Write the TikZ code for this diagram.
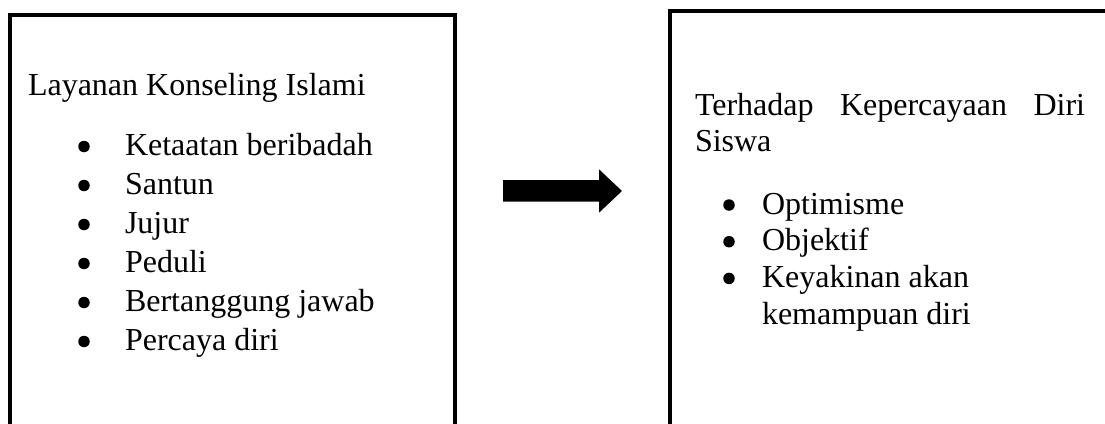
\documentclass[tikz,border=0pt]{standalone}
\usepackage{fontspec}
\setmainfont{Liberation Serif}
\begin{document}
\begin{tikzpicture}[x=1pt,y=-1pt,
  frame/.style={draw,line width=4pt,inner sep=0pt,outer sep=0pt,anchor=north west},
  txt/.style={inner sep=0pt,outer sep=0pt,anchor=base west,font=\fontsize{32}{36}\selectfont},
  dot/.style={circle,fill,inner sep=0pt,outer sep=0pt,minimum size=11.5pt}]
\useasboundingbox (0,0) rectangle (1105,423);
\clip (0,0) rectangle (1105,423);

% the two frames, open at the lower (and right) page edge
\node[frame,minimum width=445.5pt,minimum height=460pt] (leftbox) at (9.5,14.5) {};
\node[frame,minimum width=460pt,minimum height=460pt] (rightbox) at (669.5,10.5) {};

% left column
\node[txt] (ltitle) at (28,95) {Layanan Konseling Islami};
\foreach \i/\t in {0/Ketaatan beribadah,1/Santun,2/Jujur,3/Peduli,4/Bertanggung jawab,5/Percaya diri}{
  \node[txt] (litem\i) at (125,155.5+39*\i) {\t};
  \node[dot] (ldot\i) at (84,146.5+39*\i) {};
}

% block arrow between the frames
\fill (503,180) -- (599,180) -- (599,169.3) -- (622,191) -- (599,212.7)
      -- (599,201.7) -- (503,201.7) -- cycle;

% right column
\node[txt] (rtitle) at (695,115) {\makebox[390pt][l]{Terhadap\hfill Kepercayaan\hfill Diri}};
\node[txt] (rtitle2) at (695,151.7) {Siswa};
\foreach \i/\t in {0/Optimisme,1/Objektif,2/Keyakinan akan}{
  \node[txt] (ritem\i) at (762,214+36.7*\i) {\t};
  \node[dot] (rdot\i) at (729,205+36.7*\i) {};
}
\node[txt] (ritem3) at (762,324.1) {kemampuan diri};
\end{tikzpicture}
\end{document}
